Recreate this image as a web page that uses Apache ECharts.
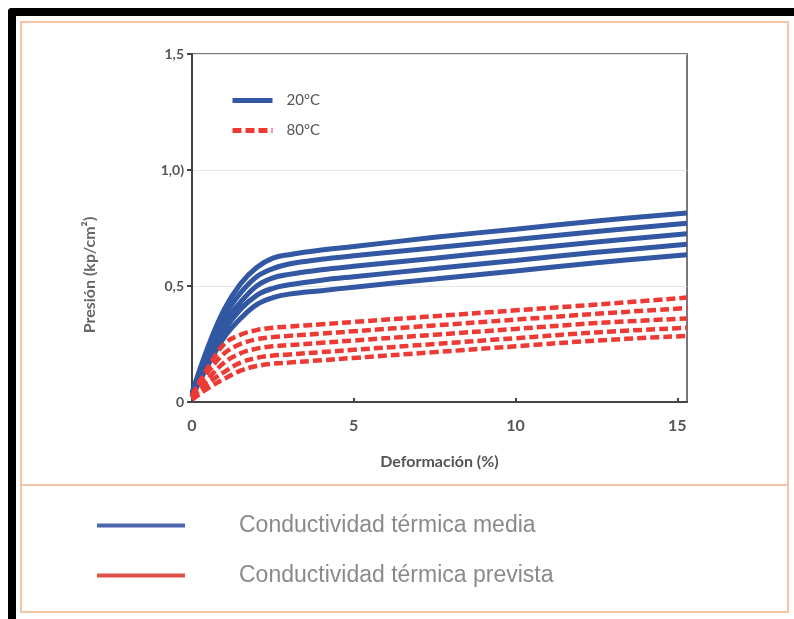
<!DOCTYPE html>
<html>
<head>
<meta charset="utf-8">
<script src="https://cdn.jsdelivr.net/npm/echarts@6/dist/echarts.min.js"></script>
<style>
  html, body { margin: 0; padding: 0; background: #fff; }
  #main { width: 794px; height: 619px; }
</style>
</head>
<body>
<div id="main"></div>
<script>
// deformación (%)
var xVals = [0, 0.5, 1, 1.5, 2, 2.5, 3, 4, 5, 7.5, 10, 12.5, 15.3];

// 20ºC curves (top to bottom)
var blue1 = [0.04, 0.24, 0.40, 0.51, 0.58, 0.62, 0.635, 0.655, 0.67, 0.71, 0.745, 0.78, 0.815];
var blue2 = [0.035, 0.22, 0.37, 0.47, 0.54, 0.575, 0.595, 0.615, 0.63, 0.665, 0.70, 0.735, 0.77];
var blue3 = [0.03, 0.20, 0.34, 0.43, 0.50, 0.535, 0.55, 0.57, 0.585, 0.62, 0.655, 0.69, 0.725];
var blue4 = [0.025, 0.18, 0.31, 0.40, 0.46, 0.49, 0.505, 0.525, 0.54, 0.575, 0.61, 0.645, 0.68];
var blue5 = [0.02, 0.16, 0.28, 0.36, 0.42, 0.45, 0.465, 0.48, 0.495, 0.53, 0.565, 0.60, 0.635];

// 80ºC curves (top to bottom)
var red1 = [0.03, 0.15, 0.25, 0.29, 0.31, 0.32, 0.325, 0.335, 0.345, 0.37, 0.395, 0.42, 0.45];
var red2 = [0.025, 0.13, 0.21, 0.25, 0.27, 0.28, 0.285, 0.295, 0.305, 0.33, 0.355, 0.38, 0.405];
var red3 = [0.02, 0.10, 0.17, 0.21, 0.23, 0.24, 0.245, 0.255, 0.265, 0.29, 0.315, 0.34, 0.36];
var red4 = [0.015, 0.08, 0.13, 0.17, 0.19, 0.20, 0.205, 0.215, 0.225, 0.25, 0.275, 0.30, 0.32];
var red5 = [0.01, 0.06, 0.10, 0.135, 0.155, 0.165, 0.17, 0.18, 0.19, 0.215, 0.24, 0.265, 0.285];

var yTickLabels = { 0: '0', 0.5: '0,5', 1: '1,0)', 1.5: '1,5' };
var xTicks = [0, 5, 10, 15];

var blueColor = '#3257a3';
var redColor = '#ee3a34';

function pairs(ys) {
  return xVals.map(function (x, i) { return [x, ys[i]]; });
}

function curve(name, ys, color, dashed) {
  return {
    name: name,
    type: 'line',
    data: pairs(ys),
    smooth: 0.4,
    symbol: 'none',
    lineStyle: { color: color, width: dashed ? 4.5 : 5, type: dashed ? [9, 4] : 'solid' },
    itemStyle: { color: color },
    z: dashed ? 3 : 2
  };
}

var series = [];
[blue1, blue2, blue3, blue4, blue5].forEach(function (d) {
  series.push(curve('20ºC', d, blueColor, false));
});
[red1, red2, red3, red4, red5].forEach(function (d) {
  series.push(curve('80ºC', d, redColor, true));
});
// entries for the legend under the chart
series.push({ name: 'Conductividad térmica media', type: 'line', data: [], symbol: 'none',
  lineStyle: { color: '#4a67b0', width: 4 }, itemStyle: { color: '#4a67b0' } });
series.push({ name: 'Conductividad térmica prevista', type: 'line', data: [], symbol: 'none',
  lineStyle: { color: '#e0504a', width: 4 }, itemStyle: { color: '#e0504a' } });

var myChart = echarts.init(document.getElementById('main'));
var option = {
  backgroundColor: '#fff',
  animation: false,
  grid: {
    left: 192, top: 54, right: 107, bottom: 217,
    show: true, borderColor: '#777', borderWidth: 2, backgroundColor: '#fff'
  },
  legend: [{
    data: ['20ºC', '80ºC'],
    orient: 'vertical',
    left: 225, top: 88,
    itemWidth: 40, itemHeight: 14, itemGap: 15,
    itemStyle: { opacity: 0 },
    lineStyle: { width: 5 },
    textStyle: { color: '#555', fontFamily: 'Lato', fontSize: 15, padding: [0, 0, 0, 9] }
  }, {
    data: ['Conductividad térmica media', 'Conductividad térmica prevista'],
    orient: 'vertical',
    left: 90, top: 509,
    itemWidth: 88, itemHeight: 24, itemGap: 27,
    itemStyle: { opacity: 0 },
    lineStyle: { width: 4 },
    textStyle: { color: '#8a8a8a', fontFamily: 'Liberation Sans', fontSize: 23, padding: [0, 0, 0, 49] }
  }],
  xAxis: {
    type: 'value',
    min: 0, max: 15.3, interval: 5,
    name: 'Deformación (%)',
    nameLocation: 'middle',
    nameGap: 52,
    nameTextStyle: { color: '#555', fontFamily: 'Lato', fontWeight: 'bold', fontSize: 16 },
    axisLine: { lineStyle: { color: '#444', width: 2 } },
    axisTick: { show: true, inside: true, length: 4, lineStyle: { color: '#444', width: 2 } },
    axisLabel: {
      color: '#555', fontFamily: 'Lato', fontWeight: 'bold', fontSize: 16, margin: 16,
      showMaxLabel: false,
      formatter: function (v) { return xTicks.indexOf(v) >= 0 ? String(v) : ''; }
    },
    splitLine: { show: false }
  },
  yAxis: {
    type: 'value',
    min: 0, max: 1.5, interval: 0.5,
    axisLine: { show: true, lineStyle: { color: '#444', width: 2 } },
    axisTick: { show: true, length: 5, lineStyle: { color: '#444', width: 2 } },
    axisLabel: {
      color: '#555', fontFamily: 'Lato', fontWeight: 'bold', fontSize: 14, margin: 8,
      formatter: function (v) { return yTickLabels[v] !== undefined ? yTickLabels[v] : ''; }
    },
    splitLine: { show: true, lineStyle: { color: '#e6e6e6', width: 1 } }
  },
  graphic: [
    // orange frame and divider
    { type: 'rect', shape: { x: 21, y: 22, width: 767, height: 590 },
      style: { fill: 'none', stroke: '#f5c3a6', lineWidth: 2 }, z: -1 },
    { type: 'line', shape: { x1: 21, y1: 485, x2: 788, y2: 485 },
      style: { stroke: '#f5c3a6', lineWidth: 2 }, z: -1 },
    // black outer border (top and left)
    { type: 'rect', shape: { x: 8, y: 8, width: 786, height: 8, r: [4, 0, 0, 0] },
      style: { fill: '#000' } },
    { type: 'rect', shape: { x: 8, y: 8, width: 8, height: 611, r: [4, 0, 0, 0] },
      style: { fill: '#000' } },
    // y axis title
    { type: 'text', x: 90, y: 275, rotation: Math.PI / 2,
      style: { text: 'Presión (kp/cm²)', fill: '#666', font: 'bold 16px Lato',
        textAlign: 'center', textVerticalAlign: 'middle' } }
  ],
  series: series
};

// 使用刚指定的配置项和数据显示图表。
myChart.setOption(option);
</script>
</body>
</html>
